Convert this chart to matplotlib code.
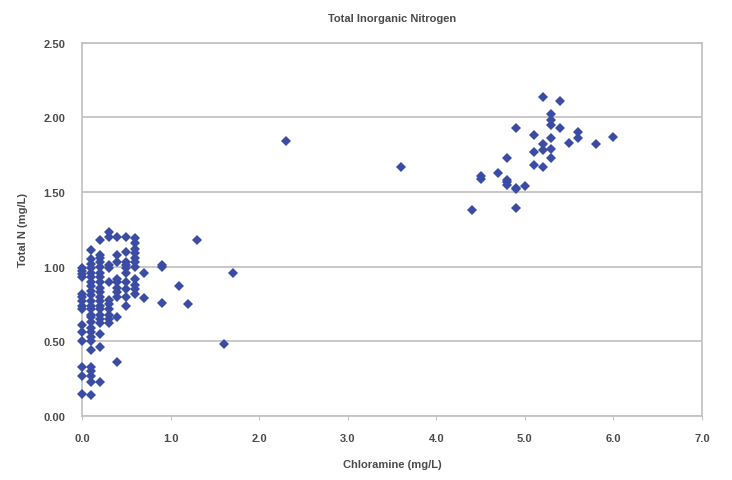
#!/usr/bin/env python3

import numpy as np
import matplotlib
matplotlib.use("Agg")
import matplotlib.pyplot as plt


# chloramine (mg/L) -> total N (mg/L)
l_y_00 = [0.99, 0.97, 0.95, 0.93, 0.82, 0.80, 0.77, 0.74, 0.72, 0.61, 0.56, 0.50, 0.33, 0.27, 0.15]
l_y_01 = [1.11, 1.05, 1.02, 0.99, 0.96, 0.93, 0.90, 0.87, 0.84, 0.81, 0.77, 0.74, 0.72,
          0.68, 0.66, 0.63, 0.59, 0.56, 0.53, 0.50, 0.44, 0.33, 0.30, 0.27, 0.23, 0.14]
l_y_02 = [1.18, 1.08, 1.06, 1.03, 1.00, 0.96, 0.93, 0.90, 0.86, 0.83, 0.80, 0.77, 0.74,
          0.72, 0.68, 0.65, 0.62, 0.55, 0.46, 0.23]
l_y_03 = [1.23, 1.20, 1.01, 0.99, 0.90, 0.78, 0.75, 0.72, 0.68, 0.65, 0.62]
l_y_04 = [1.20, 1.08, 1.03, 0.92, 0.90, 0.86, 0.83, 0.80, 0.66, 0.36]
l_y_05 = [1.20, 1.10, 1.03, 1.01, 0.99, 0.96, 0.90, 0.85, 0.80, 0.74]
l_y_06 = [1.19, 1.16, 1.12, 1.09, 1.06, 1.03, 1.00, 0.92, 0.88, 0.85, 0.82]

l_x_other = [0.7, 0.7, 0.9, 0.9, 0.9, 1.1, 1.2, 1.3, 1.6, 1.7, 2.3, 3.6,
             4.4, 4.5, 4.5, 4.7, 4.8, 4.8, 4.8, 4.8, 4.9, 4.9, 4.9, 4.9, 5.0,
             5.1, 5.1, 5.1, 5.2, 5.2, 5.2, 5.2, 5.3, 5.3, 5.3, 5.3, 5.3, 5.3,
             5.4, 5.4, 5.5, 5.6, 5.6, 5.8, 6.0]
l_y_other = [0.96, 0.79, 1.01, 1.00, 0.76, 0.87, 0.75, 1.18, 0.48, 0.96, 1.84, 1.67,
             1.38, 1.61, 1.59, 1.63, 1.73, 1.58, 1.55, 1.57, 1.93, 1.52, 1.39, 1.53, 1.54,
             1.88, 1.77, 1.68, 2.14, 1.82, 1.78, 1.67, 2.02, 1.98, 1.95, 1.86, 1.79, 1.73,
             2.11, 1.93, 1.83, 1.90, 1.86, 1.82, 1.87]

x_ticks = [0.0, 1.0, 2.0, 3.0, 4.0, 5.0, 6.0, 7.0]
y_ticks = [0.0, 0.5, 1.0, 1.5, 2.0, 2.5]


def collect_points():
    l_x = []
    l_y = []
    for f_x, l_col in zip([0.0, 0.1, 0.2, 0.3, 0.4, 0.5, 0.6],
                          [l_y_00, l_y_01, l_y_02, l_y_03, l_y_04, l_y_05, l_y_06]):
        l_x += [f_x] * len(l_col)
        l_y += l_col
    l_x += l_x_other
    l_y += l_y_other
    return np.array(l_x), np.array(l_y)
#


if __name__ == '__main__':
    plt.rcParams['font.family'] = ['Liberation Sans', 'DejaVu Sans']
    s_txt = '#4a4a4a'
    s_grid = '#c4c4c4'

    fig = plt.figure(figsize=(7.32, 4.81), dpi=100)
    ax = fig.add_axes([0.112, 0.133, 0.847, 0.776])

    na_x, na_y = collect_points()
    ax.plot(na_x, na_y, linestyle='none', marker='D', markersize=5.3,
            color='#3a4ca4', markeredgewidth=0, zorder=3, clip_on=False)

    ax.set_xlim(0, 7)
    ax.set_ylim(0, 2.5)
    ax.set_xticks(x_ticks)
    ax.set_yticks(y_ticks)
    ax.set_xticklabels(["%.1f" % v for v in x_ticks])
    ax.set_yticklabels(["%.2f" % v for v in y_ticks])

    ax.yaxis.grid(True, color=s_grid, linewidth=1.3)
    ax.set_axisbelow(True)
    for s in ['left', 'right', 'top', 'bottom']:
        ax.spines[s].set_color(s_grid)
        ax.spines[s].set_linewidth(1.3)

    ax.tick_params(axis='x', length=3, color=s_grid, labelsize=8, labelcolor=s_txt, pad=9)
    ax.tick_params(axis='y', length=0, labelsize=8, labelcolor=s_txt, pad=12)
    for o_lbl in ax.get_xticklabels() + ax.get_yticklabels():
        o_lbl.set_fontweight('bold')

    ax.set_xlabel("Chloramine (mg/L)", fontsize=8, fontweight='bold', color=s_txt, labelpad=12)
    ax.set_ylabel("Total N (mg/L)", fontsize=8, fontweight='bold', color=s_txt, labelpad=11)
    ax.set_title("Total Inorganic Nitrogen", fontsize=8, fontweight='bold', color=s_txt, pad=16)

    fig.savefig("out.png", dpi=100)
#
